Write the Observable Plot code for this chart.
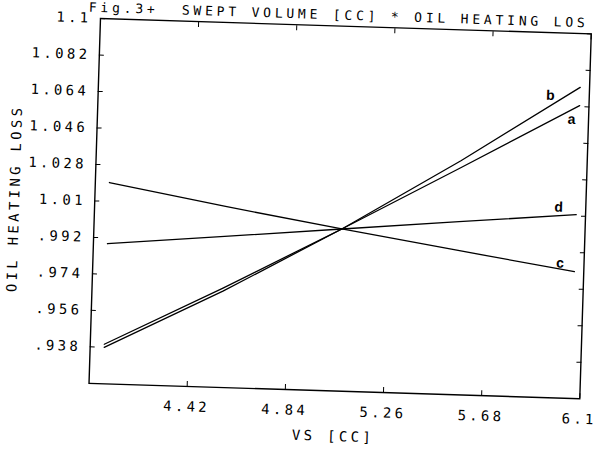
<!DOCTYPE html>
<html><head><meta charset="utf-8">
<script src="https://cdn.jsdelivr.net/npm/d3@7"></script>
<script src="https://cdn.jsdelivr.net/npm/@observablehq/plot@0.6"></script>
<style>
html,body{margin:0;padding:0;background:#fff;overflow:hidden}
#wrap{position:relative;width:596px;height:450px;transform:rotate(1.8deg);transform-origin:100px 18px;}
#wrap svg{position:absolute;left:0;top:0;overflow:visible}
</style></head><body><div id="wrap"></div>
<script>
// Data
const vs = [4.06, 4.56, 5.06, 5.56, 6.06];
const seriesA = [0.9395, 0.969, 1.0, 1.032, 1.0645];
const seriesB = [0.938, 0.9675, 1.0, 1.0355, 1.0735];
const seriesC = [1.0193, 1.0093, 1.0, 0.9912, 0.9826];
const seriesD = [0.9891, 0.9945, 1.0, 1.0054, 1.0107];
const seriesNames = ["a", "b", "c", "d"];
const xTicks = [4.42, 4.84, 5.26, 5.68, 6.1];
const yTicks = [0.938, 0.956, 0.974, 0.992, 1.01, 1.028, 1.046, 1.064, 1.082, 1.1];
const titleText = "Fig.3+  SWEPT VOLUME [CC] * OIL HEATING LOS";
const xLabel = "VS [CC]";
const yLabel = "OIL HEATING LOSS";

const seriesValues = [seriesA, seriesB, seriesC, seriesD];
const rows = seriesNames.flatMap((s, i) => vs.map((x, j) => ({series: s, vs: x, loss: seriesValues[i][j]})));
const ends = rows.filter(d => d.vs === vs[vs.length - 1]);
const labelOffset = {a: [-6, 14], b: [-28, 9], c: [-13, -8], d: [-16, -7]};
const fmt = d => String(d).replace(/^0\./, ".");
const mono = "'DejaVu Sans Mono', monospace";

const plot = Plot.plot({
  width: 596, height: 450,
  marginLeft: 100, marginRight: 5, marginTop: 18, marginBottom: 67,
  style: {background: "transparent", color: "#000", fontFamily: mono, fontSize: "14px", letterSpacing: "3.3px", overflow: "visible"},
  x: {domain: [4.0, 6.1]},
  y: {domain: [0.92, 1.1]},
  marks: [
    Plot.frame({stroke: "#000", strokeWidth: 1.4}),
    Plot.axisY(yTicks, {anchor: "left", tickSize: -5, tickPadding: 14, tickFormat: fmt, label: null}),
    Plot.axisY(yTicks, {anchor: "right", tickSize: -5, tickFormat: () => "", label: null}),
    Plot.axisX(xTicks, {anchor: "bottom", tickSize: -5, tickPadding: 20, tickFormat: fmt, label: null}),
    Plot.axisX(xTicks, {anchor: "top", tickSize: -5, tickFormat: () => "", label: null}),
    Plot.line(rows, {x: "vs", y: "loss", z: "series", stroke: "#000", strokeWidth: 1.3}),
    ...seriesNames.map(s => Plot.text(ends.filter(d => d.series === s), {
      x: "vs", y: "loss", text: "series", dx: labelOffset[s][0], dy: labelOffset[s][1],
      fontFamily: "'Liberation Sans', Arial, sans-serif", fontWeight: "bold", fontSize: 14
    })),
    Plot.text([xLabel], {text: d => d, frameAnchor: "bottom", dy: 50}),
    Plot.text([yLabel], {text: d => d, frameAnchor: "left", textAnchor: "middle", dx: -80, rotate: -90}),
    Plot.text([titleText], {text: d => d, frameAnchor: "top-left", textAnchor: "start", lineAnchor: "bottom", dx: -12, dy: -6.5, fontSize: 13, style: {letterSpacing: "3.8px"}})
  ]
});
plot.querySelectorAll("text").forEach(t => { if (t.textContent === titleText) t.setAttribute("letter-spacing", "3.8px"); });
document.getElementById("wrap").appendChild(plot);
</script></body></html>
